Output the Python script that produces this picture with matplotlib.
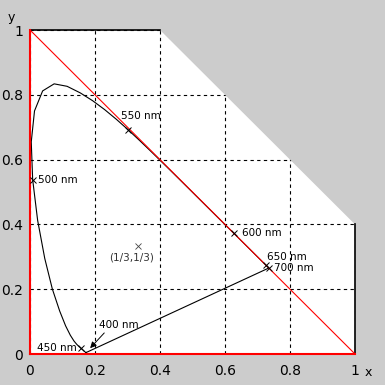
import matplotlib
matplotlib.use("Agg")
import matplotlib.pyplot as plt
from matplotlib.patches import Polygon

# CIE 1931 spectral locus, 400-700 nm in 5 nm steps (chromaticity x, y)
wavelengths = list(range(400, 705, 5))
locus_x = [0.17333, 0.17302, 0.17258, 0.17209, 0.17141, 0.17030, 0.16888, 0.16690,
           0.16441, 0.16110, 0.15664, 0.15099, 0.14396, 0.13550, 0.12412, 0.10959,
           0.09129, 0.06871, 0.04539, 0.02346, 0.00817, 0.00386, 0.01387, 0.03885,
           0.07430, 0.11416, 0.15472, 0.19288, 0.22962, 0.26578, 0.30160, 0.33736,
           0.37310, 0.40874, 0.44406, 0.47877, 0.51249, 0.54479, 0.57515, 0.60293,
           0.62704, 0.64823, 0.66576, 0.68008, 0.69150, 0.70061, 0.70792, 0.71403,
           0.71903, 0.72303, 0.72599, 0.72827, 0.72997, 0.73109, 0.73199, 0.73272,
           0.73342, 0.73405, 0.73440, 0.73459, 0.73469]
locus_y = [0.00480, 0.00478, 0.00480, 0.00483, 0.00510, 0.00579, 0.00690, 0.00856,
           0.01086, 0.01379, 0.01771, 0.02274, 0.02970, 0.03988, 0.05780, 0.08684,
           0.13270, 0.20072, 0.29498, 0.41270, 0.53842, 0.65482, 0.75019, 0.81202,
           0.83380, 0.82621, 0.80586, 0.78163, 0.75433, 0.72432, 0.69231, 0.65885,
           0.62445, 0.58961, 0.55471, 0.52020, 0.48659, 0.45443, 0.42423, 0.39650,
           0.37249, 0.35139, 0.33401, 0.31975, 0.30834, 0.29930, 0.29203, 0.28593,
           0.28093, 0.27695, 0.27401, 0.27173, 0.27003, 0.26891, 0.26801, 0.26728,
           0.26658, 0.26595, 0.26560, 0.26541, 0.26531]

# labelled wavelengths and where their text sits
marked_nm = [450, 500, 550, 600, 650, 700]
label_xy = [(0.145, 0.017), (0.025, 0.538), (0.280, 0.735),
            (0.652, 0.372), (0.728, 0.300), (0.752, 0.266)]
label_ha = ["right", "left", "left", "left", "left", "left"]

ticks = [0, 0.2, 0.4, 0.6, 0.8, 1]
tick_labels = ["0", "0.2", "0.4", "0.6", "0.8", "1"]
white_point = (1 / 3, 1 / 3)

bg = "#cccccc"

fig = plt.figure(figsize=(3.85, 3.85), dpi=100, facecolor=bg)
ax = fig.add_axes([30 / 385, 31 / 385, 325 / 385, 324 / 385])
ax.set_xlim(0, 1)
ax.set_ylim(0, 1)
ax.set_facecolor("white")
for s in ax.spines.values():
    s.set_visible(False)

ax.set_xticks(ticks)
ax.set_yticks(ticks)
ax.set_xticklabels(tick_labels)
ax.set_yticklabels(tick_labels)
ax.tick_params(length=0, labelsize=10, pad=5)
ax.tick_params(axis="x", pad=7)

ax.grid(True, color="black", linestyle=(0, (3, 3)), linewidth=0.8)
ax.set_axisbelow(True)

# spectral locus closed by the purple line
ax.plot(locus_x + [locus_x[0]], locus_y + [locus_y[0]], color="black", linewidth=0.8, zorder=3)

# top-right corner hidden by background polygon
ax.add_patch(Polygon([(0.4, 1.0), (1.0, 0.4), (1.2, 0.4), (1.2, 1.2), (0.4, 1.2)],
                     closed=True, facecolor=bg, edgecolor="none", zorder=4, clip_on=False))

# frame pieces
ax.plot([0, 0.4], [1, 1], color="black", linewidth=1.2, zorder=5, clip_on=False)
ax.plot([1, 1], [0, 0.4], color="black", linewidth=1.2, zorder=5, clip_on=False)
ax.plot([0, 1], [1, 0], color="red", linewidth=0.8, zorder=5)
ax.plot([0, 0], [0, 1], color="red", linewidth=1.5, zorder=5, clip_on=False)
ax.plot([0, 1], [0, 0], color="red", linewidth=1.5, zorder=5, clip_on=False)

for nm, (tx, ty), ha in zip(marked_nm, label_xy, label_ha):
    i = wavelengths.index(nm)
    ax.plot(locus_x[i], locus_y[i], marker="x", markersize=4, markeredgewidth=0.7,
            color="black", zorder=6)
    ax.text(tx, ty, f"{nm} nm", ha=ha, va="center", fontsize=7.5, zorder=6)

ax.plot(*white_point, marker="x", markersize=4, markeredgewidth=0.6, color="#444444", zorder=6)
ax.text(white_point[0] - 0.02, white_point[1] - 0.035, "(1/3,1/3)", ha="center", va="center",
        fontsize=7.5, color="#333333", zorder=6)

ax.annotate("400 nm", xy=(0.185, 0.018), xytext=(0.212, 0.089), ha="left", va="center",
            fontsize=7.5, zorder=6,
            arrowprops=dict(arrowstyle="-|>", color="black", linewidth=0.7,
                            mutation_scale=9, shrinkA=0, shrinkB=0,
                            relpos=(0.2, 0.0)))

fig.text(368 / 385, 1 - 373 / 385, "x", ha="center", va="center", fontsize=9)
fig.text(11 / 385, 1 - 18 / 385, "y", ha="center", va="center", fontsize=9)

fig.savefig("out.png", dpi=100, facecolor=bg)
